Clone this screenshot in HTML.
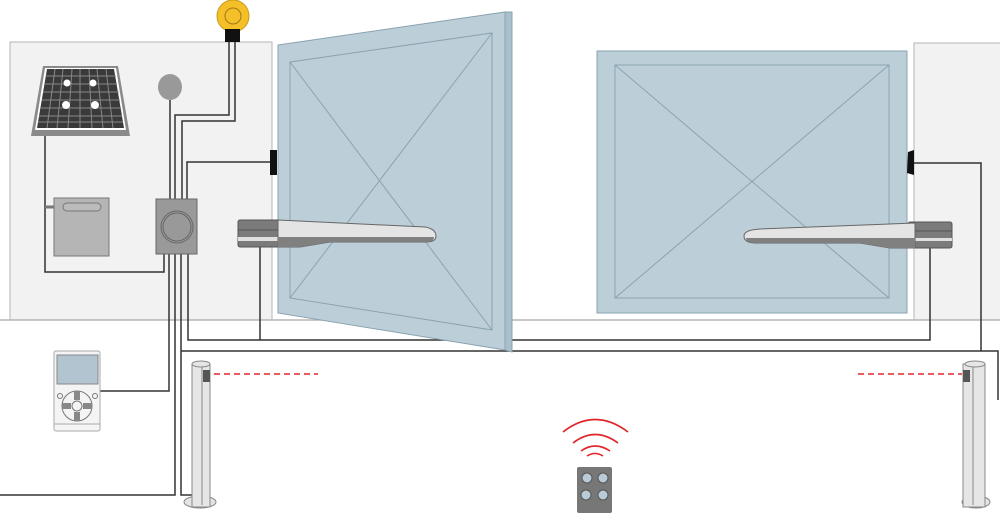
<!DOCTYPE html>
<html><head><style>html,body{margin:0;padding:0;background:#fff}svg{display:block}</style></head>
<body>
<svg width="1000" height="513" viewBox="0 0 1000 513" xmlns="http://www.w3.org/2000/svg">
<!-- walls -->
<rect x="10" y="42" width="262" height="278" fill="#f2f2f2" stroke="#b5b5b5"/>
<rect x="914" y="43" width="90" height="277" fill="#f2f2f2" stroke="#b5b5b5"/>
<line x1="0" y1="320" x2="1000" y2="320" stroke="#b5b5b5" stroke-width="1.5"/>
<!-- wires -->
<g fill="none" stroke="#333" stroke-width="1.5">
<polyline points="45,135 45,272 164,272 164,254"/>
<line x1="45" y1="207" x2="54" y2="207" stroke="#777" stroke-width="3"/>
<line x1="170" y1="100" x2="170" y2="199"/>
<polyline points="229,42 229,115 175,115 175,199"/>
<polyline points="235,42 235,121 182,121 182,199"/>
<polyline points="272,162 187,162 187,199"/>
<polyline points="169,254 169,391 100,391"/>
<polyline points="175,254 175,495 0,495"/>
<polyline points="181,254 181,495 192,495"/>
<polyline points="188,254 188,340 930,340 930,247"/>
<polyline points="181,351 998,351 998,400"/>
<polyline points="914,163 981,163 981,351"/>
<line x1="260" y1="245" x2="260" y2="340"/>
</g>
<!-- left gate -->
<polygon points="278,45 505,12 505,350 278,313" fill="#bccfd9" stroke="#8aa3b0"/>
<polygon points="505,12 512,12 512,352 505,350" fill="#a9c0cc" stroke="#8aa3b0"/>
<polygon points="290,62 492,33 492,330 290,298" fill="none" stroke="#8aa3b0"/>
<line x1="290" y1="62" x2="492" y2="330" stroke="#8aa3b0"/>
<line x1="492" y1="33" x2="290" y2="298" stroke="#8aa3b0"/>
<!-- right gate -->
<rect x="597" y="51" width="310" height="262" fill="#bccfd9" stroke="#8aa3b0"/>
<rect x="615" y="65" width="274" height="233" fill="none" stroke="#8aa3b0"/>
<line x1="615" y1="65" x2="889" y2="298" stroke="#8aa3b0"/>
<line x1="889" y1="65" x2="615" y2="298" stroke="#8aa3b0"/>
<!-- photocells on walls -->
<rect x="270" y="150" width="7" height="25" fill="#111"/>
<path d="M914,150 L908,152 L907,173 L914,175 Z" fill="#111"/>
<!-- left motor -->
<rect x="238" y="220" width="42" height="27" rx="2" fill="#7b7b7b" stroke="#555"/>
<line x1="238" y1="230" x2="280" y2="230" stroke="#555"/>
<rect x="238" y="237" width="42" height="4" fill="#e0e0e0"/>
<path d="M278,220 L425,227 Q436,229 436,236 Q436,242 426,242 L330,242 L300,247 L278,247 Z" fill="#e4e4e4" stroke="#666"/>
<path d="M278,237 L434,237 Q434,242 426,242 L330,242 L300,247 L278,247 Z" fill="#808080"/>
<!-- right motor -->
<rect x="908" y="222" width="44" height="26" rx="2" fill="#7b7b7b" stroke="#555"/>
<line x1="908" y1="231" x2="952" y2="231" stroke="#555"/>
<rect x="908" y="238" width="44" height="3" fill="#e0e0e0"/>
<path d="M915,223 L760,229 Q744,230 744,236 Q744,243 756,243 L860,243 L890,248 L915,248 Z" fill="#e4e4e4" stroke="#666"/>
<path d="M915,238 L746,238 Q746,243 756,243 L860,243 L890,248 L915,248 Z" fill="#808080"/>
<!-- lamp -->
<circle cx="233" cy="16" r="16" fill="#f5bf2a" stroke="#c99a1a"/>
<circle cx="233" cy="16" r="8" fill="none" stroke="#a07a10"/>
<rect x="225" y="29" width="15" height="13" fill="#111"/>
<!-- solar -->
<polygon points="43,66 118,66 130,136 31,136" fill="#8a8a8a"/>
<polygon points="45,68 116,68 126,130 35,130" fill="#fff"/>
<g fill="#3a3a3a">
<polygon points="47,69 114,69 124,128 37,128"/>
</g>
<g stroke="#888" stroke-width="1">
<line x1="46" y1="76" x2="116" y2="76"/><line x1="45" y1="84" x2="117" y2="84"/><line x1="43" y1="92" x2="119" y2="92"/><line x1="42" y1="100" x2="120" y2="100"/><line x1="40" y1="108" x2="121" y2="108"/><line x1="39" y1="116" x2="122" y2="116"/><line x1="38" y1="122" x2="123" y2="122"/>
<line x1="55" y1="69" x2="47" y2="128"/><line x1="63" y1="69" x2="57" y2="128"/><line x1="72" y1="69" x2="68" y2="128"/><line x1="80" y1="69" x2="80" y2="128"/><line x1="89" y1="69" x2="92" y2="128"/><line x1="97" y1="69" x2="103" y2="128"/><line x1="106" y1="69" x2="113" y2="128"/>
</g>
<g fill="#fff"><circle cx="67" cy="83" r="3.5"/><circle cx="93" cy="83" r="3.5"/><circle cx="66" cy="105" r="4"/><circle cx="95" cy="105" r="4"/></g>
<!-- antenna -->
<ellipse cx="170" cy="87" rx="12" ry="13" fill="#999"/>
<!-- battery -->
<rect x="54" y="198" width="55" height="58" fill="#b5b5b5" stroke="#777"/>
<rect x="63" y="203" width="38" height="8" rx="4" fill="#bbb" stroke="#777"/>
<!-- control box -->
<rect x="156" y="199" width="41" height="55" fill="#999" stroke="#666"/>
<circle cx="177" cy="227" r="16" fill="none" stroke="#666"/>
<circle cx="177" cy="227" r="14" fill="none" stroke="#666"/>
<!-- keypad -->
<rect x="54" y="351" width="46" height="80" rx="2" fill="#f4f4f4" stroke="#aaa"/>
<rect x="57" y="355" width="41" height="29" fill="#b2c4cf" stroke="#888"/>
<line x1="54" y1="424" x2="100" y2="424" stroke="#aaa"/>
<circle cx="77" cy="406" r="15" fill="none" stroke="#777"/>
<circle cx="77" cy="406" r="5" fill="none" stroke="#777"/>
<g fill="#888"><rect x="74" y="391" width="6" height="9"/><rect x="74" y="412" width="6" height="9"/><rect x="62" y="403" width="9" height="6"/><rect x="83" y="403" width="9" height="6"/></g>
<circle cx="60" cy="396" r="2.5" fill="none" stroke="#777"/><circle cx="95" cy="396" r="2.5" fill="none" stroke="#777"/>
<!-- posts -->
<g>
<ellipse cx="200" cy="502" rx="16" ry="6" fill="#e4e4e4" stroke="#888"/>
<rect x="192" y="364" width="18" height="143" fill="#e6e6e6" stroke="#888"/>
<line x1="202" y1="366" x2="202" y2="505" stroke="#888"/>
<rect x="203" y="370" width="7" height="12" fill="#555"/>
<ellipse cx="201" cy="364" rx="9" ry="3" fill="#e6e6e6" stroke="#888"/>
<ellipse cx="976" cy="502" rx="14" ry="6" fill="#e4e4e4" stroke="#888"/>
<rect x="963" y="364" width="22" height="143" fill="#e6e6e6" stroke="#888"/>
<line x1="973" y1="366" x2="973" y2="505" stroke="#888"/>
<rect x="963" y="370" width="7" height="12" fill="#555"/>
<ellipse cx="975" cy="364" rx="10" ry="3" fill="#e6e6e6" stroke="#888"/>
</g>
<line x1="214" y1="374" x2="318" y2="374" stroke="#e0252b" stroke-width="1.6" stroke-dasharray="6,4"/>
<line x1="858" y1="374" x2="962" y2="374" stroke="#e0252b" stroke-width="1.6" stroke-dasharray="6,4"/>
<!-- remote -->
<g fill="none" stroke="#e0252b" stroke-width="1.6">
<path d="M563,432 Q595,407 628,432"/>
<path d="M573,443 Q595,426 618,443"/>
<path d="M581,451 Q595,441 610,451"/>
<path d="M587,456 Q595,451 603,456"/>
</g>
<rect x="577" y="467" width="35" height="46" rx="2" fill="#777"/>
<g fill="#b8cbd6" stroke="#555"><circle cx="587" cy="478" r="5"/><circle cx="603" cy="478" r="5"/><circle cx="586" cy="495" r="5"/><circle cx="603" cy="495" r="5"/></g>
</svg>
</body></html>
